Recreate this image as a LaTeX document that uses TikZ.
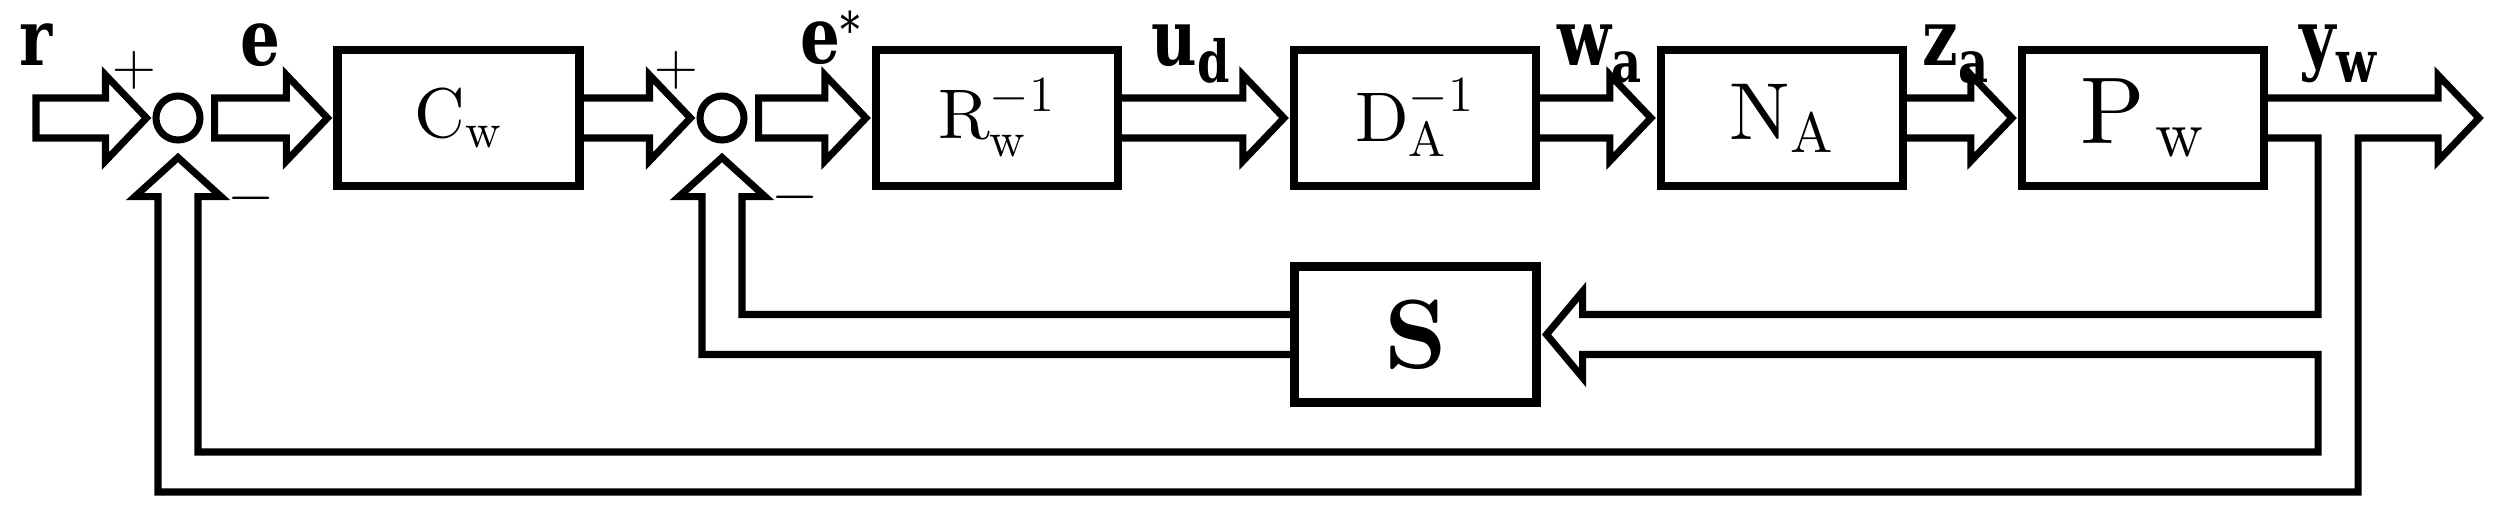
\documentclass[tikz,border=0pt]{standalone}
\usepackage{fontspec}
\setmainfont{lmroman10-regular}[Extension=.otf, BoldFont=lmroman10-bold]
\usetikzlibrary{calc}
\newfontfamily\sigfont[FakeStretch=0.8]{DejaVu Serif}

\tikzset{
  blk/.style={draw, line width=2.3pt, minimum width=2.42cm, minimum height=1.36cm,
    inner sep=0pt, font=\fontsize{20}{24}\selectfont},
  sumpt/.style={draw, circle, line width=2pt, minimum size=0.44cm, inner sep=0pt},
  pipe/.style={line width=2pt, line join=miter},
  lbl/.style={anchor=base west, inner sep=0pt, font=\fontsize{22.3}{24}\selectfont\sigfont\bfseries},
  pm/.style={inner sep=0pt, font=\fontsize{16}{18}\selectfont}
}
\newcommand{\sig}[2]{#1\raisebox{-1.7mm}{\fontsize{16.5}{17}\selectfont #2}}
% hollow arrow along a row, from #2 to #3
\newcommand{\fatarrow}[3][]{%
  \draw[pipe] let \p1=(#2), \p2=(#3) in
    (\x1,\y1+2mm) -- (\x2-4.7mm,\y1+2mm) -- (\x2-4.7mm,\y1+4.3mm)
    -- (\x2-0.6mm,\y1) -- (\x2-4.7mm,\y1-4.3mm) -- (\x2-4.7mm,\y1-2mm)
    -- (\x1,\y1-2mm) #1;}

\begin{document}
\begin{tikzpicture}
\useasboundingbox (0,0) rectangle (24.99,5.13);

\draw (1.78,3.95) node[sumpt] (sum1) {};
\draw (4.585,3.95) node[blk] (Cw) {$\mathrm{C}_{\mathrm{w}}$};
\draw (7.22,3.95) node[sumpt] (sum2) {};
\draw (9.97,3.95) node[blk] (Rw) {$\mathrm{R}_{\mathrm{w}}^{-1}$};
\draw (14.15,3.95) node[blk] (DA) {$\mathrm{D}_{\mathrm{A}}^{-1}$};
\draw (17.82,3.95) node[blk, font=\fontsize{23}{26}\selectfont] (NA) {$\mathrm{N}_{\mathrm{A}}$};
\draw (21.43,3.95) node[blk, font=\fontsize{27}{30}\selectfont] (Pw) {$\mathrm{P}_{\,\mathrm{w}}$};
\draw (14.155,1.785) node[blk, font=\fontsize{28}{30}\selectfont] (S) {$\mathbf{S}$};
\coordinate (rin) at (0.36,3.95);
\coordinate (yout) at (24.85,3.95);

% forward path
\fatarrow[-- cycle]{rin}{sum1.west}
\fatarrow[-- cycle]{$(sum1.east)+(1.1mm,0)$}{Cw.west}
\fatarrow{Cw.east}{sum2.west}
\fatarrow[-- cycle]{$(sum2.east)+(1.1mm,0)$}{Rw.west}
\fatarrow{Rw.east}{DA.west}
\fatarrow{DA.east}{NA.west}
\fatarrow{NA.east}{Pw.west}

% output, feedback to S and to the first sum
\draw[pipe] let \p1=(Pw.east), \p2=(yout), \p3=(S.east), \p4=(sum1.south) in
  (\x1,\y1+2mm) -- (\x2-4.7mm,\y1+2mm) -- (\x2-4.7mm,\y1+4.3mm) -- (\x2-0.6mm,\y1)
  -- (\x2-4.7mm,\y1-4.3mm) -- (\x2-4.7mm,\y1-2mm) -- (23.58cm,\y1-2mm)
  -- (23.58cm,0.21cm) -- (\x4-2mm,0.21cm) -- (\x4-2mm,\y4-5.3mm)
  -- (\x4-4.3mm,\y4-5.3mm) -- (\x4,\y4-1.4mm) -- (\x4+4.3mm,\y4-5.3mm)
  -- (\x4+2mm,\y4-5.3mm) -- (\x4+2mm,0.61cm) -- (23.18cm,0.61cm)
  -- (23.18cm,\y3-2mm) -- (\x3+4.2mm,\y3-2mm) -- (\x3+4.2mm,\y3-4.3mm)
  -- (\x3+0.6mm,\y3) -- (\x3+4.2mm,\y3+4.3mm) -- (\x3+4.2mm,\y3+2mm)
  -- (23.18cm,\y3+2mm) -- (23.18cm,\y1-2mm) -- (\x1,\y1-2mm);
% S back to the second sum
\draw[pipe] let \p1=(S.west), \p2=(sum2.south) in
  (\x1,\y1+2mm) -- (\x2+2mm,\y1+2mm) -- (\x2+2mm,\y2-5.3mm) -- (\x2+4.3mm,\y2-5.3mm)
  -- (\x2,\y2-1.4mm) -- (\x2-4.3mm,\y2-5.3mm) -- (\x2-2mm,\y2-5.3mm)
  -- (\x2-2mm,\y1-2mm) -- (\x1,\y1-2mm);

% signal names
\draw (0.19,4.48) node[lbl] (rlab) {r};
\draw (2.40,4.48) node[lbl] (elab) {e};
\draw (8.00,4.50) node[lbl] (eslab) {e\raisebox{1.6mm}{\mdseries\fontsize{14}{14}\selectfont *}};
\draw (11.51,4.48) node[lbl] (udlab) {\sig{u}{d}};
\draw (15.57,4.48) node[lbl] (walab) {\sig{w}{a}};
\draw (19.22,4.48) node[lbl] (zalab) {\sig{z}{a}};
\draw (22.99,4.48) node[lbl] (ywlab) {\sig{y}{w}};

% signs
\draw (1.34,4.43) node[pm] (plus1) {$+$};
\draw (6.76,4.43) node[pm] (plus2) {$+$};
\draw (2.515,3.15) node[pm] (minus1) {$-$};
\draw (7.955,3.16) node[pm] (minus2) {$-$};
\end{tikzpicture}
\end{document}
